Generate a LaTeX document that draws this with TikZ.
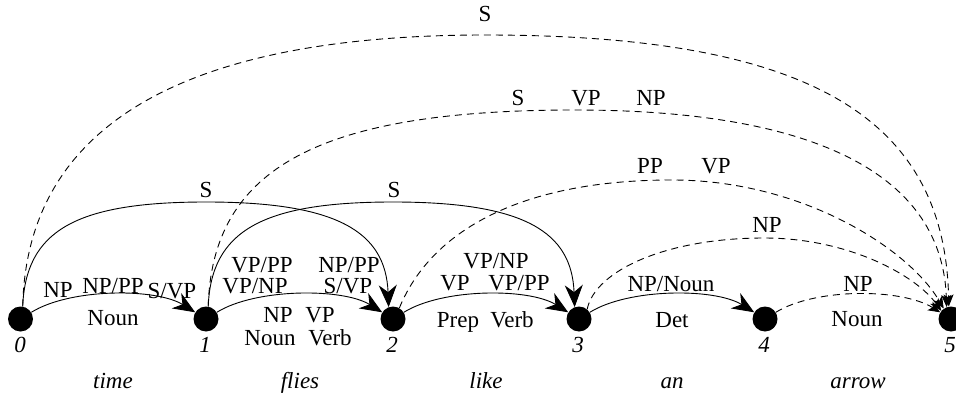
\documentclass[tikz,border=0pt]{standalone}
\usepackage{fontspec}
\setmainfont{Liberation Serif}
\usetikzlibrary{arrows.meta}
\begin{document}
\begin{tikzpicture}[x=1pt,y=-1pt,
  state/.style={circle, fill=black, minimum size=25pt, inner sep=0pt},
  lbl/.style={font=\fontsize{23}{27}\selectfont, anchor=base, inner sep=0pt},
  ilbl/.style={lbl, font=\fontsize{23}{27}\selectfont\itshape},
  solidarc/.style={line width=0.9pt, -{Stealth[length=22pt,width=18pt,inset=7pt]}},
  dasharc/.style={line width=0.9pt, dash pattern=on 7pt off 5pt, -{Stealth[length=12pt,width=10pt,inset=3pt]}}]
\useasboundingbox (0,0) rectangle (956,396);
% states
\node[state] (n0) at (20.5,319) {};
\node[state] (n1) at (206,319) {};
\node[state] (n2) at (393,319) {};
\node[state] (n3) at (579,319) {};
\node[state] (n4) at (765,319) {};
\node[state] (n5) at (951,319) {};
% peaks of long arcs
\coordinate (p02) at (206,202);
\coordinate (p13) at (393,202);
\coordinate (p05) at (485,35);
\coordinate (p15) at (575,110);
\coordinate (p25) at (672,180);
\coordinate (p35) at (764,238);
% short arcs
\draw[solidarc] (n0) .. controls +(50,-31) and +(-50,-31) .. (n1);
\draw[solidarc] (n1) .. controls +(50,-31) and +(-50,-31) .. (n2);
\draw[solidarc] (n2) .. controls +(50,-31) and +(-50,-31) .. (n3);
\draw[solidarc] (n3) .. controls +(50,-31) and +(-50,-31) .. (n4);
\draw[dasharc] (n4) .. controls +(50,-31) and +(-50,-31) .. (n5);
% long solid arcs
\draw[solidarc] (n0.80) .. controls +(3,-75) and +(-132,0) .. (p02) .. controls +(132,0) and +(-3,-75) .. (n2.110);
\draw[solidarc] (n1.80) .. controls +(3,-75) and +(-132,0) .. (p13) .. controls +(132,0) and +(-3,-75) .. (n3.110);
% long dashed arcs
\draw[dasharc] (n0.80) .. controls +(4,-179) and +(-305,0) .. (p05) .. controls +(323,0) and +(-4,-190) .. (n5.100);
\draw[dasharc] (n1.80) .. controls +(4,-138) and +(-257,0) .. (p15) .. controls +(245,0) and +(-4,-130) .. (n5.110);
\draw[dasharc] (n2.60) .. controls +(32,-78) and +(-150,0) .. (p25) .. controls +(130,0) and +(-35,-60) .. (n5.125);
\draw[dasharc] (n3.50) .. controls +(8,-39) and +(-97,0) .. (p35) .. controls +(85,0) and +(-25,-35) .. (n5.140);
% labels 0-1
\node[lbl] (a1) at (58,297) {NP};
\node[lbl] (a2) at (113,293) {NP/PP};
\node[lbl] (a3) at (172,298) {S/VP};
\node[lbl] (a4) at (113,325) {Noun};
% labels 1-2
\node[lbl] (b1) at (262,272) {VP/PP};
\node[lbl] (b2) at (349,272) {NP/PP};
\node[lbl] (b3) at (255,293) {VP/NP};
\node[lbl] (b4) at (348,293) {S/VP};
\node[lbl] (b5) at (278,322) {NP};
\node[lbl] (b6) at (320,322) {VP};
\node[lbl] (b7) at (270,345) {Noun};
\node[lbl] (b8) at (330,345) {Verb};
% labels 2-3
\node[lbl] (c1) at (496,268) {VP/NP};
\node[lbl] (c2) at (455,290) {VP};
\node[lbl] (c3) at (519,290) {VP/PP};
\node[lbl] (c4) at (458,327) {Prep};
\node[lbl] (c5) at (512,327) {Verb};
% labels 3-4
\node[lbl] (d1) at (671,291) {NP/Noun};
\node[lbl] (d2) at (672,327) {Det};
% labels 4-5
\node[lbl] (e1) at (858,291) {NP};
\node[lbl] (e2) at (857,326) {Noun};
% labels long arcs
\node[lbl] (f1) at (206,197) {S};
\node[lbl] (f2) at (394,197) {S};
\node[lbl] (f3) at (485,22) {S};
\node[lbl] (f4) at (518,105) {S};
\node[lbl] (f5) at (586,105) {VP};
\node[lbl] (f6) at (651,105) {NP};
\node[lbl] (f7) at (650,173) {PP};
\node[lbl] (f8) at (716,173) {VP};
\node[lbl] (f9) at (767,232) {NP};
% state numbers
\node[ilbl] (m0) at (20,352) {0};
\node[ilbl] (m1) at (205,352) {1};
\node[ilbl] (m2) at (392,352) {2};
\node[ilbl] (m3) at (578,352) {3};
\node[ilbl] (m4) at (764,352) {4};
\node[ilbl] (m5) at (950,352) {5};
% words
\node[ilbl] (w1) at (113,388) {time};
\node[ilbl] (w2) at (300,388) {flies};
\node[ilbl] (w3) at (486,388) {like};
\node[ilbl] (w4) at (672,388) {an};
\node[ilbl] (w5) at (858,388) {arrow};
\end{tikzpicture}
\end{document}
